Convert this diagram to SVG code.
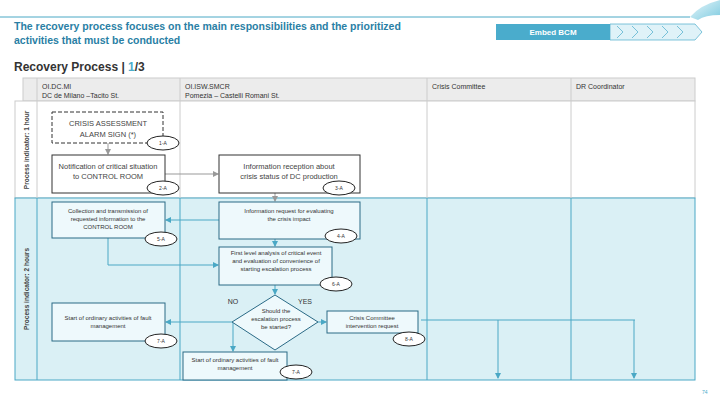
<svg xmlns="http://www.w3.org/2000/svg" width="720" height="405" viewBox="0 0 720 405">
<defs>
<marker id="ab" markerWidth="6" markerHeight="6" refX="5" refY="3" orient="auto" markerUnits="userSpaceOnUse"><path d="M0,0 L6,3 L0,6 z" fill="#4aa8c5"/></marker>
<marker id="ag" markerWidth="6" markerHeight="6" refX="5" refY="3" orient="auto" markerUnits="userSpaceOnUse"><path d="M0,0 L6,3 L0,6 z" fill="#999"/></marker>
<linearGradient id="cg" x1="0" y1="0" x2="1" y2="1"><stop offset="0" stop-color="#e8f7fb"/><stop offset="1" stop-color="#7fcbe0"/></linearGradient>
</defs>
<style>
text{font-family:"Liberation Sans",Arial,sans-serif}
.box{fill:#fff;stroke:#333;stroke-width:1}
.bbox{fill:#eef9fc;stroke:#2a6a86;stroke-width:1}
.ell{fill:#fff;stroke:#222;stroke-width:1}
.t{font-size:7.5px;fill:#444;text-anchor:middle}
.ts{font-size:6px;fill:#333;text-anchor:middle}
.e{font-size:5px;fill:#333;text-anchor:middle}
.h{font-size:7px;fill:#333}
.cb{stroke:#4aa8c5;fill:none;stroke-width:1}
.cg{stroke:#999;fill:none;stroke-width:1}
</style>
<rect width="720" height="405" fill="#fff"/>
<line x1="0" y1="17" x2="690" y2="17" stroke="#4aa8c5" stroke-width="1"/>
<path d="M690,17 Q700,5 720,0 L720,15 Q705,15 698,20 Z" fill="url(#cg)"/>
<text x="14" y="30" font-size="10.5" font-weight="bold" fill="#2a7fa5">The recovery process focuses on the main responsibilities and the prioritized</text>
<text x="14" y="44" font-size="10.5" font-weight="bold" fill="#2a7fa5">activities that must be conducted</text>
<rect x="496" y="24" width="114" height="16" fill="#4aaccc"/>
<text x="553" y="35" font-size="8" font-weight="bold" fill="#fff" text-anchor="middle">Embed BCM</text>
<path d="M610,24 L695,24 L702,32 L695,40 L610,40 Z" fill="#dff2f8" stroke="#4aaccc" stroke-width="0.7"/>
<g fill="none" stroke="#4aaccc" stroke-width="0.7"><path d="M617,26 L623,32 L617,38"/><path d="M632,26 L638,32 L632,38"/><path d="M647,26 L653,32 L647,38"/><path d="M662,26 L668,32 L662,38"/><path d="M677,26 L683,32 L677,38"/></g>
<text x="14" y="71" font-size="12" font-weight="bold" fill="#333">Recovery Process | <tspan fill="#4aaccc">1</tspan>/3</text>

<g id="table">
<rect x="23" y="78" width="672" height="23" fill="#ececec" stroke="#ccc"/>
<rect x="15" y="101" width="680" height="97" fill="#fff" stroke="#ccc"/>
<rect x="15" y="198" width="680" height="182" fill="#daf0f5" stroke="#4aa8c5"/>
<line x1="37" y1="78" x2="37" y2="198" stroke="#ccc"/>
<line x1="180" y1="78" x2="180" y2="198" stroke="#ccc"/>
<line x1="427" y1="78" x2="427" y2="198" stroke="#ccc"/>
<line x1="571" y1="78" x2="571" y2="198" stroke="#ccc"/>
<line x1="37" y1="198" x2="37" y2="380" stroke="#4aa8c5"/>
<line x1="180" y1="198" x2="180" y2="380" stroke="#4aa8c5"/>
<line x1="427" y1="198" x2="427" y2="380" stroke="#4aa8c5"/>
<line x1="571" y1="198" x2="571" y2="380" stroke="#4aa8c5"/>
<text x="42" y="89" class="h">OI.DC.MI</text><text x="42" y="98" class="h">DC de Milano –Tacito St.</text>
<text x="185" y="89" class="h">OI.ISW.SMCR</text><text x="185" y="98" class="h">Pomezia – Castelli Romani St.</text>
<text x="432" y="89" class="h">Crisis Committee</text>
<text x="576" y="89" class="h">DR Coordinator</text>
<text transform="translate(29,150) rotate(-90)" font-size="6.5" font-weight="bold" fill="#444" text-anchor="middle">Process indicator: 1 hour</text>
<text transform="translate(29,289) rotate(-90)" font-size="6.5" font-weight="bold" fill="#444" text-anchor="middle">Process indicator: 2 hours</text>
</g>

<g id="connectors">
<line x1="108" y1="143" x2="108" y2="154" class="cg" marker-end="url(#ag)"/>
<line x1="165" y1="174" x2="218" y2="174" class="cg" marker-end="url(#ag)"/>
<line x1="275" y1="193" x2="275" y2="201" class="cg" marker-end="url(#ag)"/>
<line x1="219" y1="220" x2="166" y2="220" class="cb" marker-end="url(#ab)"/>
<line x1="275" y1="239" x2="275" y2="246" class="cb" marker-end="url(#ab)"/>
<polyline points="108,238 108,265 218,265" class="cb" marker-end="url(#ab)"/>
<line x1="275" y1="285" x2="275" y2="294" class="cb" marker-end="url(#ab)"/>
<line x1="232" y1="322" x2="166" y2="322" class="cb" marker-end="url(#ab)"/>
<line x1="233" y1="322" x2="233" y2="351" class="cb" marker-end="url(#ab)"/>
<line x1="318" y1="322" x2="326" y2="322" class="cb" marker-end="url(#ab)"/>
<polyline points="421,320 635,320" class="cb"/>
<line x1="498" y1="320" x2="498" y2="378" class="cb" marker-end="url(#ab)"/>
<line x1="634" y1="320" x2="634" y2="378" class="cb" marker-end="url(#ab)"/>
<text x="233" y="304" font-size="7" fill="#333" text-anchor="middle">NO</text>
<text x="305" y="304" font-size="7" fill="#333" text-anchor="middle">YES</text>
</g>

<g id="n1"><rect x="52" y="112" width="111" height="31" fill="#fff" stroke="#333" stroke-dasharray="4,2"/>
<text x="108" y="126" class="t">CRISIS ASSESSMENT</text><text x="108" y="137" class="t">ALARM SIGN (*)</text>
<ellipse cx="163" cy="143" rx="16" ry="7" class="ell"/><text x="163" y="145" class="e">1-A</text></g>
<g id="n2"><rect x="52" y="155" width="113" height="38" class="box"/>
<text x="108" y="169" class="t">Notification of critical situation</text><text x="108" y="179" class="t">to CONTROL ROOM</text>
<ellipse cx="163" cy="188" rx="16" ry="7" class="ell"/><text x="163" y="190" class="e">2-A</text></g>
<g id="n3"><rect x="219" y="155" width="141" height="38" class="box"/>
<text x="289" y="169" class="t">Information reception about</text><text x="289" y="179" class="t">crisis status of DC production</text>
<ellipse cx="339" cy="188" rx="16" ry="7" class="ell"/><text x="339" y="190" class="e">3-A</text></g>
<g id="n5"><rect x="52" y="202" width="113" height="36" class="bbox"/>
<text x="108" y="213" class="ts">Collection and transmission of</text><text x="108" y="221" class="ts">requested information to the</text><text x="108" y="229" class="ts">CONTROL ROOM</text>
<ellipse cx="161" cy="239" rx="16" ry="7" class="ell"/><text x="161" y="241" class="e">5-A</text></g>
<g id="n4"><rect x="219" y="202" width="141" height="37" class="bbox"/>
<text x="289" y="213" class="ts">Information request for evaluating</text><text x="289" y="221" class="ts">the crisis impact</text>
<ellipse cx="341" cy="236" rx="16" ry="7" class="ell"/><text x="341" y="238" class="e">4-A</text></g>
<g id="n6"><rect x="219" y="247" width="113" height="38" class="bbox"/>
<text x="276" y="255" class="ts">First level analysis of critical event</text><text x="276" y="263" class="ts">and evaluation of convenience of</text><text x="276" y="271" class="ts">starting  escalation process</text>
<ellipse cx="336" cy="284" rx="16" ry="7" class="ell"/><text x="336" y="286" class="e">6-A</text></g>
<g id="d1"><polygon points="275,295 318,322 275,350 232,322" class="bbox"/>
<text x="276" y="313" class="ts">Should the</text><text x="276" y="321" class="ts">escalation process</text><text x="276" y="329" class="ts">be started?</text></g>
<g id="n7a"><rect x="52" y="303" width="113" height="38" class="bbox"/>
<text x="108" y="320" class="ts">Start of ordinary activities of fault</text><text x="108" y="328" class="ts">management</text>
<ellipse cx="161" cy="341" rx="16" ry="7" class="ell"/><text x="161" y="343" class="e">7-A</text></g>
<g id="n7b"><rect x="183" y="352" width="104" height="28" class="bbox"/>
<text x="235" y="362" class="ts">Start of ordinary activities of fault</text><text x="235" y="370" class="ts">management</text>
<ellipse cx="296" cy="372" rx="16" ry="7" class="ell"/><text x="296" y="374" class="e">7-A</text></g>
<g id="n8"><rect x="327" y="311" width="91" height="22" class="bbox"/>
<text x="372" y="320" class="ts">Crisis Committee</text><text x="372" y="328" class="ts">intervention request</text>
<ellipse cx="409" cy="339" rx="16" ry="7" class="ell"/><text x="409" y="341" class="e">8-A</text></g>
<text x="702" y="394" font-size="5" fill="#4aaccc">74</text>
</svg>
